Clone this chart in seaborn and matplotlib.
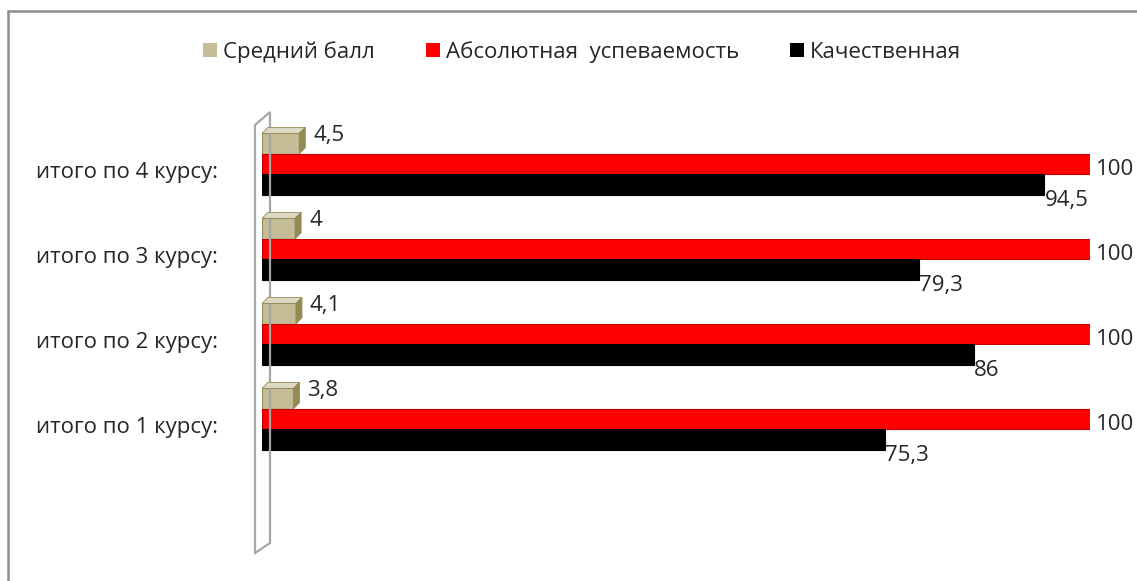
import pandas as pd
import numpy as np
import seaborn as sns
import matplotlib.pyplot as plt
from matplotlib.patches import Patch, Polygon
from matplotlib.lines import Line2D
import matplotlib.transforms as mtransforms

# data
courses = ["итого по 4 курсу:", "итого по 3 курсу:", "итого по 2 курсу:", "итого по 1 курсу:"]
series = ["Средний балл", "Абсолютная  успеваемость", "Качественная"]
avg_score = [4.5, 4, 4.1, 3.8]
absolute = [100, 100, 100, 100]
quality = [94.5, 79.3, 86, 75.3]
colors = ["#c4bd97", "#ff0000", "#000000"]

df = pd.DataFrame({
    "course": courses * 3,
    "series": [series[0]] * 4 + [series[1]] * 4 + [series[2]] * 4,
    "value": avg_score + absolute + quality,
})

sns.set_style("white")
plt.rcParams['font.family'] = ['Open Sans', 'DejaVu Sans']
FS = 16

W, H = 1137, 581
fig = plt.figure(figsize=(W / 100, H / 100), dpi=100)

def fx(px):
    return px / W

def fy(py):
    return 1 - py / H

# axes placed in pixel terms
ax = fig.add_axes([fx(262), fy(520), fx(1090) - fx(262), fy(118) - fy(520)])

# 3d wall behind the bars
wall = Polygon([(fx(255), fy(125)), (fx(270), fy(112)), (fx(270), fy(543)), (fx(255), fy(553))],
               closed=True, fill=False, edgecolor="#a6a6a6", linewidth=1.6,
               transform=fig.transFigure, zorder=0)
fig.patches.append(wall)

# outer frame (only top and left edge visible)
fig.add_artist(Line2D([fx(8), fx(8)], [fy(11), 0], color="#8c8c8c", lw=1.8, transform=fig.transFigure))
fig.add_artist(Line2D([fx(8), 1], [fy(11), fy(11)], color="#8c8c8c", lw=1.8, transform=fig.transFigure))

sns.barplot(data=df, y="course", x="value", hue="series", order=courses, hue_order=series,
            palette=colors, orient="h", width=0.72, ax=ax, legend=False, saturation=1)

ymin = -0.541
ax.set_ylim(ymin + 402 / 85, ymin)
ax.set_xlim(0, 100)
ax.set_xticks([])
ax.set_xlabel("")
ax.set_ylabel("")
for s in ax.spines.values():
    s.set_visible(False)
ax.patch.set_alpha(0)
ax.tick_params(axis="y", length=0, pad=32, labelsize=FS)

shift = mtransforms.ScaledTranslation(0, -6 / 100, fig.dpi_scale_trans)
for lbl in ax.get_yticklabels():
    lbl.set_transform(lbl.get_transform() + shift)

# fake 3d faces on the small bars, darker edges on the rest
edge = ["#948a54", "#c00000", "#000000"]
offsets = [(14, 8), (6, -6), (0, -16)]
depth = 6
for i, cont in enumerate(ax.containers):
    for bar in cont:
        bar.set_edgecolor(edge[i])
        bar.set_linewidth(0.8)
        v = bar.get_width()
        if i == 0:
            (x0, yb), (x1, yt) = ax.transData.transform(
                [(bar.get_x(), bar.get_y() + bar.get_height()), (bar.get_x() + v, bar.get_y())])
            top = Polygon([(x0, yt), (x1, yt), (x1 + depth, yt + depth), (x0 + depth, yt + depth)],
                          closed=True, transform=None, facecolor="#ddd9c3", edgecolor="#948a54", lw=0.6)
            side = Polygon([(x1, yb), (x1, yt), (x1 + depth, yt + depth), (x1 + depth, yb + depth)],
                           closed=True, transform=None, facecolor="#948a54", edgecolor="#948a54", lw=0.6)
            fig.patches.extend([top, side])
        txt = ("%g" % v).replace(".", ",")
        ax.annotate(txt, (v, bar.get_y() + bar.get_height() / 2),
                    xytext=offsets[i], textcoords="offset pixels",
                    ha="left", va="center", fontsize=FS, annotation_clip=False)

handles = [Patch(facecolor=c, edgecolor="none") for c in colors]
fig.legend(handles, series, loc="center", bbox_to_anchor=(fx(582), fy(52)), ncol=3,
           frameon=False, fontsize=FS, handlelength=0.63, handleheight=0.63,
           handletextpad=0.27, columnspacing=2.3)

fig.savefig("out.png", dpi=100)
